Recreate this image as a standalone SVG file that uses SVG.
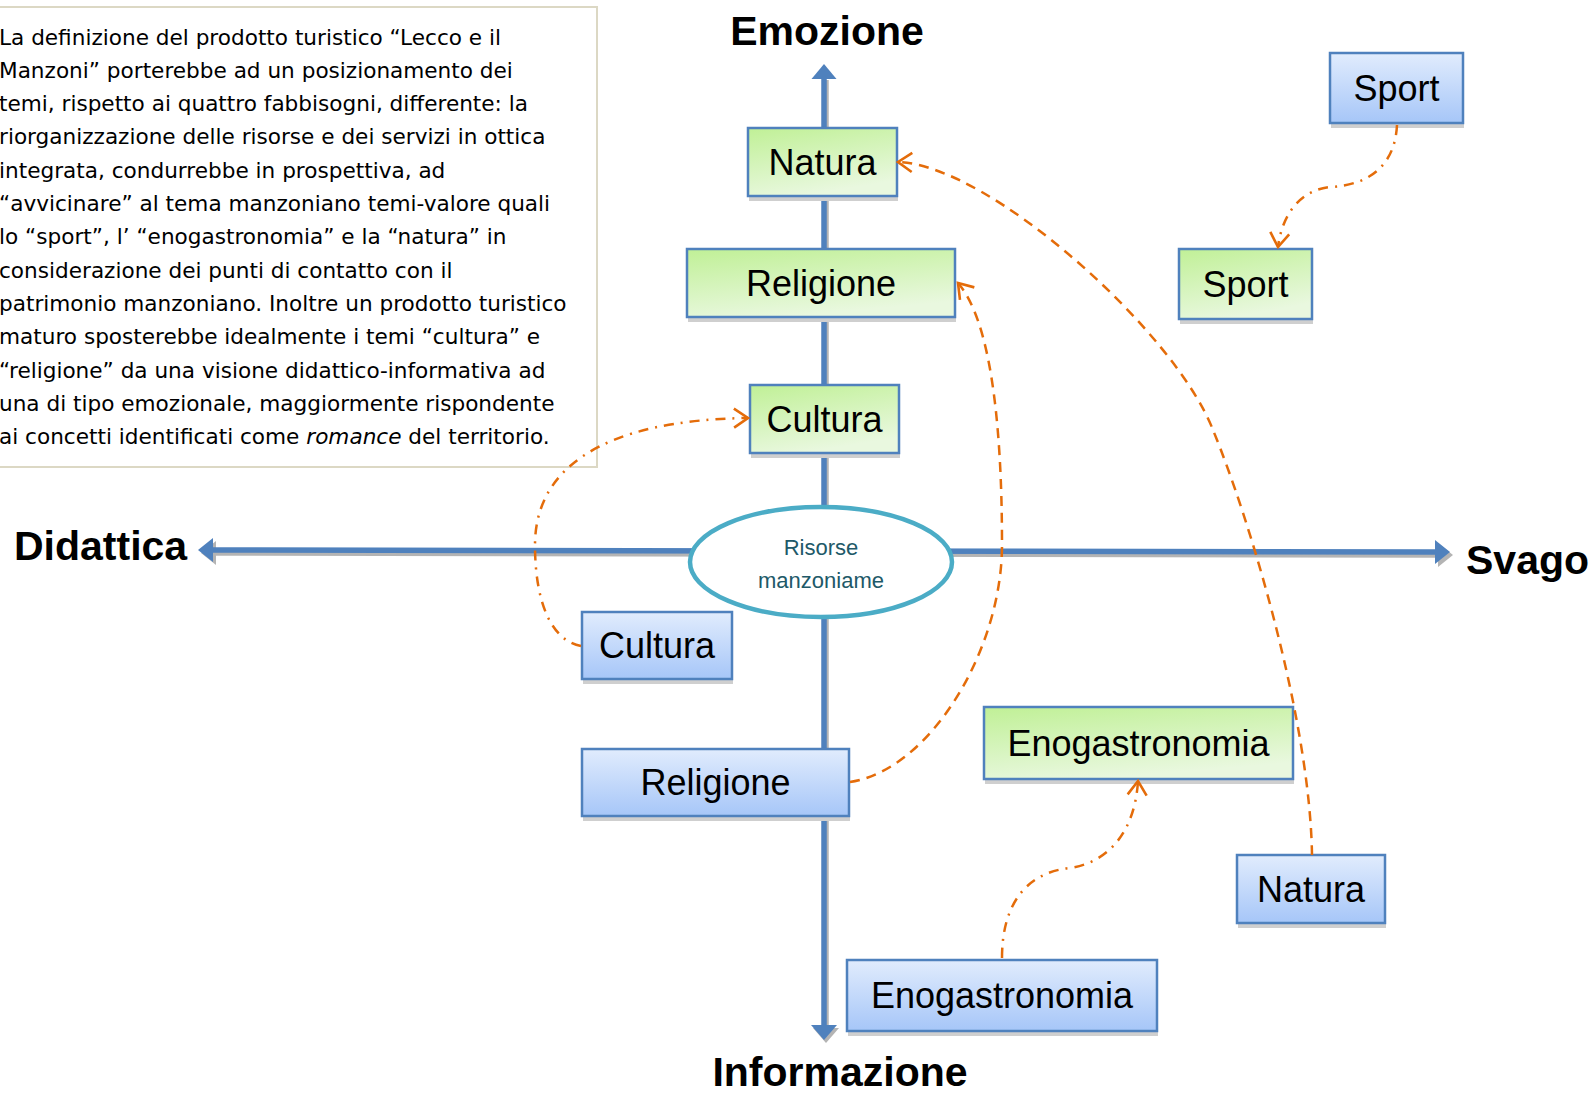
<svg xmlns="http://www.w3.org/2000/svg" width="1590" height="1093" viewBox="0 0 1590 1093">
<style>
.para{font-family:"DejaVu Sans",sans-serif;font-size:21.6px;fill:#000}
.lbl{font-family:"Liberation Sans",Arial,sans-serif;font-size:36px;fill:#000;text-anchor:middle}
.axl{font-family:"Liberation Sans",Arial,sans-serif;font-size:41px;font-weight:bold;fill:#000}
.gbox{fill:url(#gGreen);stroke:#4f81bd;stroke-width:2.5}
.bbox{fill:url(#gBlue);stroke:#4f81bd;stroke-width:2.5}
.shd{fill:#cfcfcf}
.axis{stroke:#4f81bd;stroke-width:5.5;fill:none}
.axsh{stroke:#b4b4b4;stroke-width:5.5;fill:none}
.ah{fill:#4f81bd}
.ahs{fill:#b4b4b4}
.con{fill:none;stroke:#e46c0a;stroke-width:2.5;marker-end:url(#openArrow)}
.dash{stroke-dasharray:10 7}
.dashdot{stroke-dasharray:10 7 2 7}
</style>
<defs>
<linearGradient id="gGreen" x1="0" y1="0" x2="0.35" y2="1">
<stop offset="0" stop-color="#c0f096"/>
<stop offset="1" stop-color="#e9f8df"/>
</linearGradient>
<linearGradient id="gBlue" x1="0" y1="0" x2="0" y2="1">
<stop offset="0" stop-color="#e1ecfd"/>
<stop offset="1" stop-color="#a6c6f8"/>
</linearGradient>
<marker id="openArrow" markerWidth="22" markerHeight="24" refX="16" refY="11" orient="auto" markerUnits="userSpaceOnUse">
<path d="M2,1.5 L16,11 L2,20.5" fill="none" stroke="#e46c0a" stroke-width="2.6"/>
</marker>
</defs>

<g id="textbox">
<rect x="-6" y="7" width="603" height="460" fill="#fff" stroke="#dcd8c4" stroke-width="2"/>
<text class="para" x="-1" y="44.5">La definizione del prodotto turistico “Lecco e il</text>
<text class="para" x="-1" y="77.8">Manzoni”  porterebbe ad un posizionamento dei</text>
<text class="para" x="-1" y="111.1">temi, rispetto ai quattro fabbisogni, differente: la</text>
<text class="para" x="-1" y="144.4">riorganizzazione delle risorse e dei servizi in ottica</text>
<text class="para" x="-1" y="177.7">integrata, condurrebbe in prospettiva, ad</text>
<text class="para" x="-1" y="211">“avvicinare” al tema manzoniano temi-valore quali</text>
<text class="para" x="-1" y="244.3">lo “sport”, l’ “enogastronomia” e la “natura” in</text>
<text class="para" x="-1" y="277.6">considerazione dei punti di contatto con il</text>
<text class="para" x="-1" y="310.9">patrimonio manzoniano. Inoltre un prodotto turistico</text>
<text class="para" x="-1" y="344.2">maturo sposterebbe idealmente i temi “cultura” e</text>
<text class="para" x="-1" y="377.5">“religione” da una visione didattico-informativa ad</text>
<text class="para" x="-1" y="410.8">una di tipo emozionale, maggiormente rispondente</text>
<text class="para" x="-1" y="444.1">ai concetti identificati come <tspan font-style="italic">romance</tspan> del territorio.</text>
</g>

<g id="axes">
<line class="axsh" x1="826" y1="80" x2="826" y2="1028"/>
<line class="axsh" x1="213" y1="553" x2="1435" y2="555"/>
<polygon class="ahs" points="201,553 216,541 216,565"/>
<polygon class="ahs" points="1453,555 1438,543 1438,567"/>
<polygon class="ahs" points="826,1043 813,1028 839,1028"/>
<line class="axis" x1="824" y1="78" x2="824" y2="1026"/>
<line class="axis" x1="212" y1="550" x2="1436" y2="552"/>
<polygon class="ah" points="824,64 811.5,79 836.5,79"/>
<polygon class="ah" points="824,1040 811,1025 837,1025"/>
<polygon class="ah" points="198,550 213,538 213,562"/>
<polygon class="ah" points="1450,552 1435,540 1435,564"/>
</g>

<g id="axis-labels">
<text class="axl" x="827" y="45" text-anchor="middle">Emozione</text>
<text class="axl" x="14" y="560">Didattica</text>
<text class="axl" x="1466" y="574">Svago</text>
<text class="axl" x="840" y="1086" text-anchor="middle">Informazione</text>
</g>

<g id="risorse">
<ellipse cx="821" cy="562" rx="131" ry="55" fill="#fff" stroke="#4bacc6" stroke-width="4.5"/>
<text x="821" y="555" text-anchor="middle" font-family="Liberation Sans, Arial, sans-serif" font-size="22" fill="#215968">Risorse</text>
<text x="821" y="588" text-anchor="middle" font-family="Liberation Sans, Arial, sans-serif" font-size="22" fill="#215968">manzoniame</text>
</g>

<g id="natura-green">
<rect class="shd" x="749" y="132" width="149" height="69"/>
<rect class="gbox" x="748" y="128" width="149" height="68"/>
<text class="lbl" x="822.5" y="175">Natura</text>
</g>
<g id="religione-green">
<rect class="shd" x="688" y="253" width="268" height="69"/>
<rect class="gbox" x="687" y="249" width="268" height="68"/>
<text class="lbl" x="821" y="296">Religione</text>
</g>
<g id="cultura-green">
<rect class="shd" x="751" y="389" width="149" height="69"/>
<rect class="gbox" x="750" y="385" width="149" height="68"/>
<text class="lbl" x="824.5" y="432">Cultura</text>
</g>
<g id="sport-green">
<rect class="shd" x="1180" y="253" width="133" height="71"/>
<rect class="gbox" x="1179" y="249" width="133" height="70"/>
<text class="lbl" x="1245.5" y="297">Sport</text>
</g>
<g id="enogastronomia-green">
<rect class="shd" x="985" y="711" width="309" height="73"/>
<rect class="gbox" x="984" y="707" width="309" height="72"/>
<text class="lbl" x="1138.5" y="756">Enogastronomia</text>
</g>

<g id="sport-blue">
<rect class="shd" x="1331" y="57" width="133" height="71"/>
<rect class="bbox" x="1330" y="53" width="133" height="70"/>
<text class="lbl" x="1396.5" y="101">Sport</text>
</g>
<g id="cultura-blue">
<rect class="shd" x="583" y="616" width="150" height="68"/>
<rect class="bbox" x="582" y="612" width="150" height="67"/>
<text class="lbl" x="657" y="658">Cultura</text>
</g>
<g id="religione-blue">
<rect class="shd" x="583" y="753" width="267" height="68"/>
<rect class="bbox" x="582" y="749" width="267" height="67"/>
<text class="lbl" x="715.5" y="795">Religione</text>
</g>
<g id="natura-blue">
<rect class="shd" x="1238" y="859" width="148" height="69"/>
<rect class="bbox" x="1237" y="855" width="148" height="68"/>
<text class="lbl" x="1311" y="902">Natura</text>
</g>
<g id="enogastronomia-blue">
<rect class="shd" x="848" y="964" width="310" height="72"/>
<rect class="bbox" x="847" y="960" width="310" height="71"/>
<text class="lbl" x="1002" y="1008">Enogastronomia</text>
</g>

<g id="connectors">
<path class="con dash" d="M1312,855 C1310,720 1250,520 1213,430 C1175,332 990,165 898,162"/>
<path class="con dash" d="M850,782 C930,770 1002,650 1002,545 C1002,420 990,320 958,283"/>
<path class="con dashdot" d="M581,646 C550,640 535,600 535,545 C535,470 600,420 748,418"/>
<path class="con dashdot" d="M1397,125 C1395,165 1370,185 1330,187 C1300,190 1282,215 1278,247"/>
<path class="con dashdot" d="M1002,958 C1002,900 1030,872 1070,868 C1110,862 1135,830 1138,781"/>
</g>
</svg>
